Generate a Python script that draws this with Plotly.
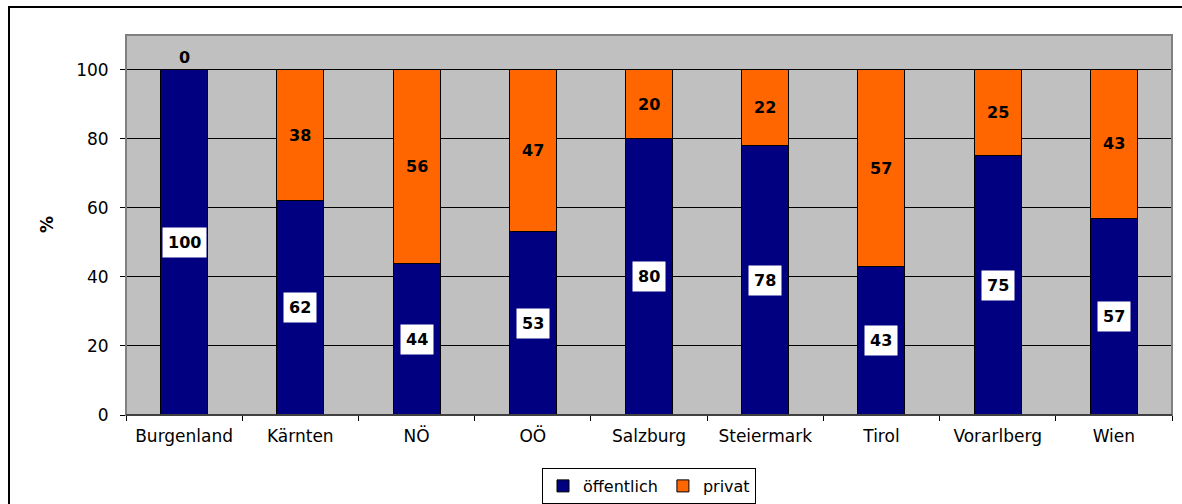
import plotly.graph_objects as go

categories = ["Burgenland", "Kärnten", "NÖ", "OÖ", "Salzburg", "Steiermark", "Tirol", "Vorarlberg", "Wien"]
oeffentlich = [100, 62, 44, 53, 80, 78, 43, 75, 57]
privat = [0, 38, 56, 47, 20, 22, 57, 25, 43]
y_ticks = [0, 20, 40, 60, 80, 100]

BLUE = "#000080"
ORANGE = "#FF6600"
GRAY = "#C0C0C0"
FONT = "DejaVu Sans, Verdana, sans-serif"

L, R, T, B = 126, 10, 35, 89
PW = 1182 - L - R
PH = 504 - T - B

fig = go.Figure()
fig.add_trace(go.Bar(x=categories, y=oeffentlich, name="öffentlich",
                     marker=dict(color=BLUE, line=dict(color="black", width=1))))
fig.add_trace(go.Bar(x=categories, y=privat, name="privat",
                     marker=dict(color=ORANGE, line=dict(color="black", width=1))))

annotations = []
for c, pub, pri in zip(categories, oeffentlich, privat):
    annotations.append(dict(x=c, y=pub / 2, xref="x", yref="y", text=f"<b>{pub}</b>",
                            showarrow=False, bgcolor="white", borderpad=5,
                            font=dict(family=FONT, size=16, color="black")))
    if pri > 0:
        annotations.append(dict(x=c, y=pub + pri / 2, xref="x", yref="y", text=f"<b>{pri}</b>",
                                showarrow=False, borderpad=5,
                                font=dict(family=FONT, size=16, color="black")))
    else:
        annotations.append(dict(x=c, y=pub, xref="x", yref="y", text=f"<b>{pri}</b>",
                                showarrow=False, yanchor="bottom", yshift=1,
                                font=dict(family=FONT, size=16, color="black")))

annotations.append(dict(text="<b>%</b>", xref="paper", yref="paper",
                        x=(47 - L) / PW, y=0.5, xanchor="center", yanchor="middle",
                        textangle=-90, showarrow=False,
                        font=dict(family=FONT, size=17, color="black")))

fig.update_layout(
    width=1182, height=504,
    barmode="stack", bargap=0.595,
    plot_bgcolor=GRAY, paper_bgcolor="white",
    margin=dict(l=L, r=R, t=T, b=B, autoexpand=False),
    font=dict(family=FONT, size=17, color="black"),
    showlegend=True,
    legend=dict(orientation="h", x=0.5, xanchor="center", y=(415 - 468) / PH, yanchor="top",
                bgcolor="white", bordercolor="black", borderwidth=1,
                font=dict(family=FONT, size=16, color="black"),
                traceorder="normal", itemwidth=30, tracegroupgap=0),
    annotations=annotations,
    xaxis=dict(showline=True, linecolor="black", linewidth=1, ticks="outside",
               tickson="boundaries", ticklen=5, tickcolor="black",
               tickfont=dict(family=FONT, size=17), showgrid=False,
               ticklabelstandoff=6),
    yaxis=dict(range=[0, 110], tickvals=y_ticks, showgrid=True, gridcolor="black",
               gridwidth=1, ticks="outside", ticklen=5, tickcolor="black",
               tickfont=dict(family=FONT, size=17), zeroline=False,
               showline=False, ticklabelstandoff=8),
    shapes=[
        dict(type="rect", xref="paper", yref="paper", x0=0, x1=1, y0=0, y1=1,
             line=dict(color="#808080", width=2), layer="above"),
        dict(type="line", xref="paper", yref="paper", x0=0, x1=1, y0=0, y1=0,
             line=dict(color="black", width=1), layer="above"),
        dict(type="rect", xref="paper", yref="paper", x0=(9 - L) / PW, x1=(1190 - L) / PW,
             y0=(415 - 515) / PH, y1=(415 - 7) / PH, line=dict(color="black", width=2),
             layer="below"),
    ],
)

fig.write_html("out.html", config={"displayModeBar": False},
               post_script="document.body.style.margin='0';document.body.style.overflow='hidden';")
